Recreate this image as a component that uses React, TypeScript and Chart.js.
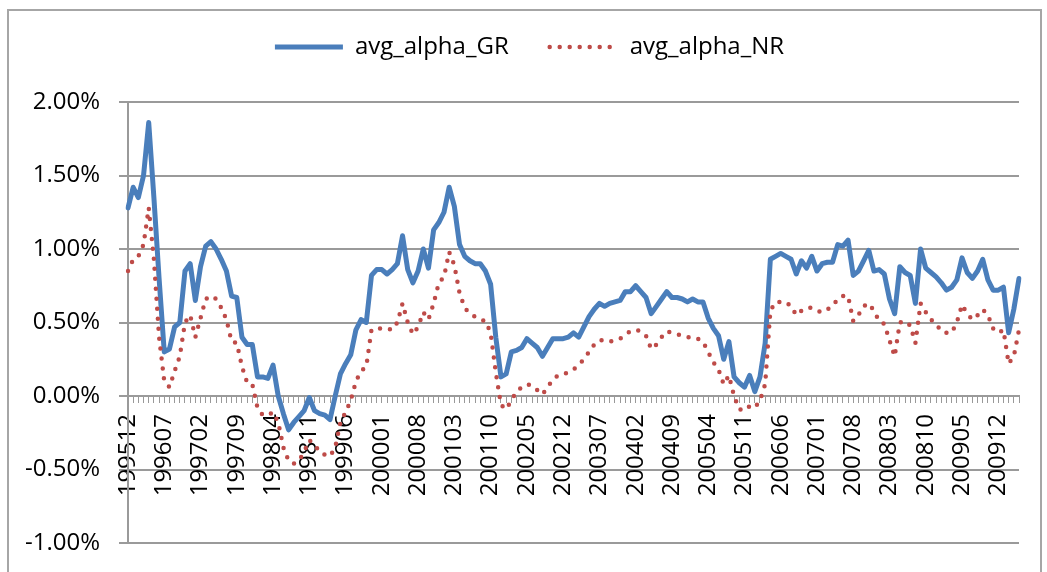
import React, { useEffect, useRef } from "react";
import { Chart, registerables } from "chart.js";

Chart.register(...registerables);

// Monthly observations, first month 1995-12
const FIRST_YEAR = 1995;
const FIRST_MONTH = 12;
const LABEL_EVERY = 7;

const GR_VALUES: number[] = [
  1.28, 1.42, 1.35, 1.5, 1.86, 1.35, 0.8, 0.3, 0.32, 0.47,
  0.5, 0.85, 0.9, 0.65, 0.88, 1.02, 1.05, 1.0, 0.93, 0.85,
  0.68, 0.67, 0.4, 0.35, 0.35, 0.13, 0.13, 0.12, 0.21, 0.0,
  -0.12, -0.23, -0.18, -0.14, -0.1, -0.01, -0.1, -0.12, -0.13, -0.16,
  0.0, 0.15, 0.22, 0.28, 0.45, 0.52, 0.5, 0.82, 0.86, 0.86,
  0.83, 0.86, 0.9, 1.09, 0.86, 0.77, 0.85, 1.0, 0.87, 1.13,
  1.18, 1.25, 1.42, 1.29, 1.03, 0.95, 0.92, 0.9, 0.9, 0.85,
  0.76, 0.4, 0.13, 0.15, 0.3, 0.31, 0.33, 0.39, 0.36, 0.33,
  0.27, 0.33, 0.39, 0.39, 0.39, 0.4, 0.43, 0.4, 0.47, 0.54,
  0.59, 0.63, 0.61, 0.63, 0.64, 0.65, 0.71, 0.71, 0.75, 0.71,
  0.67, 0.56, 0.61, 0.66, 0.71, 0.67, 0.67, 0.66, 0.64, 0.66,
  0.64, 0.64, 0.53, 0.46, 0.41, 0.25, 0.37, 0.13, 0.09, 0.06,
  0.14, 0.03, 0.13, 0.36, 0.93, 0.95, 0.97, 0.95, 0.93, 0.83,
  0.92, 0.87, 0.95, 0.85, 0.9, 0.91, 0.91, 1.03, 1.02, 1.06,
  0.82, 0.85, 0.92, 0.99, 0.85, 0.86, 0.83, 0.66, 0.56, 0.88,
  0.84, 0.82, 0.63, 1.0, 0.87, 0.84, 0.81, 0.77, 0.72, 0.74,
  0.79, 0.94, 0.84, 0.8, 0.85, 0.93, 0.79, 0.72, 0.72, 0.74,
  0.43, 0.59, 0.8,
];

const NR_VALUES: number[] = [
  0.85, 0.93, 0.95, 1.03, 1.28, 0.93, 0.4, 0.1, 0.06, 0.17,
  0.27, 0.5, 0.55, 0.4, 0.53, 0.66, 0.68, 0.66, 0.6, 0.52,
  0.37, 0.36, 0.2, 0.09, 0.08, -0.08, -0.13, -0.13, -0.11, -0.18,
  -0.35, -0.44, -0.46, -0.44, -0.38, -0.3, -0.33, -0.38, -0.4, -0.41,
  -0.35, -0.18, -0.11, -0.03, 0.1, 0.17, 0.2, 0.45, 0.46, 0.46,
  0.46, 0.45, 0.5, 0.63, 0.5, 0.42, 0.47, 0.57, 0.52, 0.63,
  0.77, 0.81, 0.98, 0.89, 0.7, 0.6, 0.56, 0.54, 0.52, 0.51,
  0.43, 0.16, -0.06, -0.09, -0.03, 0.03, 0.06, 0.08, 0.07, 0.04,
  0.01, 0.06, 0.11, 0.14, 0.15, 0.16, 0.18, 0.21, 0.25, 0.3,
  0.35, 0.38, 0.38, 0.37, 0.38, 0.39, 0.42, 0.44, 0.45, 0.44,
  0.41, 0.32, 0.35, 0.4, 0.44, 0.43, 0.42, 0.41, 0.4, 0.4,
  0.39, 0.37, 0.3, 0.23, 0.18, 0.08, 0.14, 0.0, -0.09, -0.1,
  -0.07, -0.08, -0.03, 0.08, 0.58, 0.64, 0.64, 0.64, 0.61, 0.55,
  0.58, 0.6, 0.6, 0.58, 0.57, 0.59, 0.61, 0.66, 0.68, 0.68,
  0.51, 0.55, 0.61, 0.63, 0.58, 0.51, 0.49, 0.38, 0.27, 0.5,
  0.51, 0.48, 0.36, 0.63, 0.57, 0.52, 0.49, 0.44, 0.43, 0.43,
  0.5, 0.62, 0.56, 0.52, 0.55, 0.59, 0.55, 0.46, 0.43, 0.45,
  0.22, 0.27, 0.45,
];

const CATEGORIES: string[] = GR_VALUES.map((_, k) => {
  const m = FIRST_MONTH - 1 + k;
  const y = FIRST_YEAR + Math.floor(m / 12);
  const mm = (m % 12) + 1;
  return `${y}${mm < 10 ? "0" + mm : mm}`;
});

const SERIES_NAMES = ["avg_alpha_GR", "avg_alpha_NR"];
const Y_MIN = -1;
const Y_MAX = 2;
const Y_STEP = 0.5;

const BLUE = "#4a7ebb";
const RED = "#be4b48";
const GRID = "#9a9a9a";
const FONT = "'Open Sans', 'DejaVu Sans', sans-serif";

const legendShift = {
  id: "legendShift",
  afterLayout(chart: any) {
    const l = chart.legend;
    if (!l) return;
    l.top -= 33;
    l.bottom -= 33;
    l.left += 20;
    l.right += 20;
  },
};

export default function App() {
  const ref = useRef<HTMLCanvasElement | null>(null);

  useEffect(() => {
    if (!ref.current) return;
    const chart = new Chart(ref.current, {
      type: "line",
      data: {
        labels: CATEGORIES,
        datasets: [
          {
            label: SERIES_NAMES[0],
            data: GR_VALUES,
            borderColor: BLUE,
            backgroundColor: BLUE,
            borderWidth: 5,
            borderJoinStyle: "round",
            borderCapStyle: "round",
            pointRadius: 0,
            tension: 0,
            order: 1,
          },
          {
            label: SERIES_NAMES[1],
            data: NR_VALUES,
            borderColor: RED,
            backgroundColor: RED,
            borderWidth: 4.5,
            borderDash: [0, 10],
            borderCapStyle: "round",
            borderJoinStyle: "round",
            pointRadius: 0,
            tension: 0,
            order: 0,
          },
        ],
      },
      options: {
        responsive: false,
        animation: false,
        layout: { padding: { left: 0, right: 28, top: 27, bottom: 29 } },
        plugins: {
          tooltip: { enabled: false },
          legend: {
            position: "top",
            align: "center",
            labels: {
              usePointStyle: true,
              pointStyleWidth: 68,
              padding: 41,
              color: "#000",
              font: { family: FONT, size: 24 },
              generateLabels: () => [
                {
                  text: SERIES_NAMES[0],
                  fillStyle: BLUE,
                  strokeStyle: BLUE,
                  lineWidth: 5,
                  lineDash: [],
                  lineCap: "butt",
                  pointStyle: "line",
                  hidden: false,
                  datasetIndex: 0,
                  fontColor: "#000",
                } as any,
                {
                  text: SERIES_NAMES[1],
                  fillStyle: RED,
                  strokeStyle: RED,
                  lineWidth: 4.5,
                  lineDash: [0, 10],
                  lineCap: "round",
                  pointStyle: "line",
                  hidden: false,
                  datasetIndex: 1,
                  fontColor: "#000",
                } as any,
              ],
            },
          },
        },
        scales: {
          x: {
            type: "category",
            position: { y: 0 } as any,
            offset: false,
            afterFit: (s: any) => {
              s.height = 0;
              s.paddingLeft = 0;
              s.paddingRight = 0;
              s.paddingTop = 0;
              s.paddingBottom = 0;
            },
            grid: {
              display: true,
              drawOnChartArea: false,
              drawTicks: true,
              tickLength: 6,
              color: "#999999",
              lineWidth: 1,
            },
            border: { display: true, color: GRID, width: 2 },
            ticks: {
              autoSkip: false,
              minRotation: 90,
              maxRotation: 90,
              padding: 12,
              color: "#000",
              font: { family: FONT, size: 24 },
              callback: (_v: any, i: number) =>
                i % LABEL_EVERY === 0 ? CATEGORIES[i] : "",
            },
          },
          y: {
            min: Y_MIN,
            max: Y_MAX,
            afterFit: (s: any) => {
              s.width = 128;
              s.paddingTop = 0;
              s.paddingBottom = 0;
              s.paddingLeft = 0;
              s.paddingRight = 0;
            },
            grid: {
              color: GRID,
              lineWidth: 2,
              drawTicks: true,
              tickLength: 9,
            },
            border: { display: true, color: GRID, width: 2 },
            ticks: {
              stepSize: Y_STEP,
              padding: 19,
              color: "#000",
              font: { family: FONT, size: 24 },
              callback: (v: any) => Number(v).toFixed(2) + "%",
            },
          },
        },
      },
      plugins: [legendShift],
    });
    return () => chart.destroy();
  }, []);

  return (
    <div
      style={{
        position: "fixed",
        left: 0,
        top: 0,
        width: 1047,
        height: 572,
        overflow: "hidden",
        background: "#fff",
      }}
    >
      <div
        style={{
          position: "absolute",
          left: 7,
          top: 9,
          width: 1035,
          height: 620,
          border: "2px solid #a6a6a6",
          boxSizing: "border-box",
        }}
      />
      <canvas
        ref={ref}
        width={1047}
        height={572}
        style={{ position: "absolute", left: 0, top: 0 }}
      />
    </div>
  );
}
